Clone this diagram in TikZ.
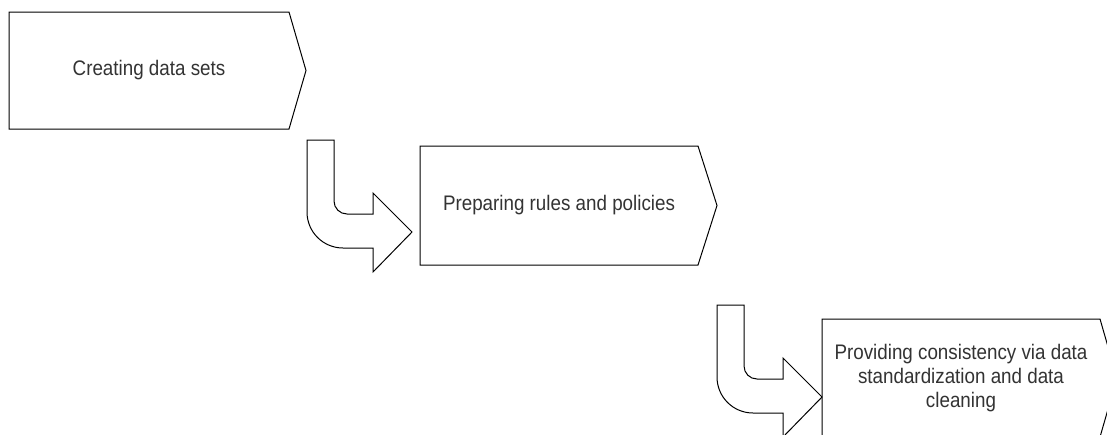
\documentclass[tikz,border=0pt]{standalone}
\usepackage{fontspec}
\setmainfont{Liberation Sans}
\definecolor{textgray}{HTML}{333333}
\newcommand\boxlabel[1]{\scalebox{1}[1.12]{\begin{tabular}{@{}c@{}}#1\end{tabular}}}
\begin{document}
\begin{tikzpicture}[x=1pt,y=-1pt,
  stepshape/.style={draw=black, line width=1pt, fill=white, line join=miter},
  txt/.style={text=textgray, font=\fontsize{18.8}{21.4}\selectfont, inner sep=0pt},
  bentarrow/.pic={
    \draw[stepshape] (0,0) -- (27,0) -- (27,61)
      .. controls (27,68.2) and (32.8,74) .. (40,74)
      -- (66,74) -- (66,53) -- (105,92) -- (66,132) -- (66,108) -- (36,108)
      .. controls (16.1,108) and (0,91.9) .. (0,72) -- cycle;
  }]
\useasboundingbox (0,0) rectangle (1107,434);
\clip (0,0) rectangle (1107,434);
\fill[white] (0,0) rectangle (1107,434);

% step 1
\draw[stepshape] (9,12) -- (289,12) -- (306,70.5) -- (289,129) -- (9,129) -- cycle;
\node[txt] (s1) at (149,70.5) {\boxlabel{Creating data sets}};

% step 2
\draw[stepshape] (420,146) -- (698,146) -- (717,205.5) -- (698,265) -- (420,265) -- cycle;
\node[txt] (s2) at (559,205.5) {\boxlabel{Preparing rules and policies}};

% step 3
\draw[stepshape] (822,319) -- (1100,319) -- (1117,378) -- (1100,437) -- (822,437) -- cycle;
\node[txt] (s3) at (961,379) {\boxlabel{Providing consistency via data\\standardization and data\\cleaning}};

% bent arrows
\pic at (307,140) {bentarrow};
\pic at (717,305) {bentarrow};
\end{tikzpicture}
\end{document}
